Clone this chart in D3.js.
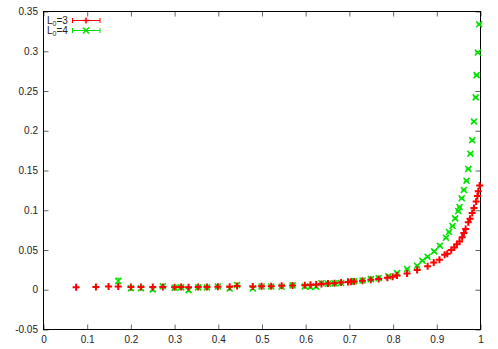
<!DOCTYPE html>
<html>
  <head>
    <script src="https://cdnjs.cloudflare.com/ajax/libs/d3/7.8.5/d3.min.js"></script>
    <style>
      body { margin: 0; background: #fff; }
      svg { font-family: "Liberation Sans", Arial, sans-serif; font-size: 10px; }
      .axis text { fill: #222; }
      .axis line { stroke: #666; }
    </style>
  </head>
  <body>
    <svg id="chart" width="498" height="349"></svg>
    <script>
      // L0=3 series (red)
      const redX = [0.0747, 0.12, 0.149, 0.171, 0.2, 0.223, 0.25, 0.273, 0.3, 0.315, 0.332, 0.354, 0.374, 0.399,
        0.426, 0.443, 0.479, 0.499, 0.521, 0.545, 0.57, 0.598, 0.611, 0.624, 0.636, 0.651, 0.666, 0.681, 0.697,
        0.704, 0.711, 0.73, 0.749, 0.767, 0.787, 0.799, 0.809, 0.832, 0.855, 0.879, 0.893, 0.906, 0.918, 0.924,
        0.933, 0.94, 0.946, 0.952, 0.958, 0.962, 0.966, 0.972, 0.976, 0.981, 0.985, 0.99, 0.993, 0.995, 0.998];
      const redY = [0.0033, 0.0035, 0.004, 0.004, 0.0035, 0.0035, 0.0035, 0.0035, 0.0033, 0.0035, 0.0033, 0.0035,
        0.0035, 0.0038, 0.0038, 0.0048, 0.0042, 0.0045, 0.0045, 0.005, 0.0054, 0.0058, 0.0063, 0.0065, 0.0072,
        0.0078, 0.0083, 0.0092, 0.0098, 0.0101, 0.0105, 0.0113, 0.0126, 0.0134, 0.0151, 0.0164, 0.018, 0.0205,
        0.0247, 0.0297, 0.0344, 0.0378, 0.0441, 0.0453, 0.0499, 0.0533, 0.0571, 0.0608, 0.0659, 0.0713, 0.0763,
        0.0848, 0.0894, 0.0965, 0.1028, 0.111, 0.118, 0.124, 0.131];

      // L0=4 series (green)
      const greenX = [0.171, 0.2, 0.223, 0.25, 0.273, 0.3, 0.315, 0.332, 0.354, 0.374, 0.399, 0.426, 0.443, 0.479,
        0.499, 0.521, 0.545, 0.57, 0.598, 0.611, 0.624, 0.636, 0.651, 0.666, 0.681, 0.702, 0.711, 0.73, 0.749,
        0.767, 0.789, 0.809, 0.832, 0.855, 0.867, 0.879, 0.894, 0.907, 0.921, 0.928, 0.936, 0.942, 0.949, 0.952,
        0.957, 0.962, 0.968, 0.972, 0.977, 0.981, 0.985, 0.989, 0.991, 0.994, 0.997];
      const greenY = [0.011, 0.0018, 0.002, 0.0005, 0.0045, 0.0025, 0.003, -0.0005, 0.003, 0.003, 0.004, 0.0015,
        0.006, 0.0016, 0.004, 0.004, 0.0037, 0.0055, 0.004, 0.0035, 0.0038, 0.0082, 0.0075, 0.008, 0.0085, 0.0105,
        0.0108, 0.0117, 0.0134, 0.0146, 0.0168, 0.0209, 0.026, 0.0302, 0.0365, 0.0416, 0.0483, 0.0554, 0.0655,
        0.0726, 0.0801, 0.0898, 0.099, 0.104, 0.115, 0.1255, 0.137, 0.152, 0.171, 0.188, 0.2116, 0.242, 0.27,
        0.2985, 0.334];
      const greenErr = [0.0035, 0.002, 0.002, 0.002, 0.0015, 0.0015, 0.0015, 0.002, 0.0015, 0.0015, 0.001, 0.0015,
        0.0015, 0.0015, 0.001, 0.001, 0.001, 0.001, 0.001, 0.0015, 0.0015, 0.001, 0.001, 0.001, 0.001, 0.001,
        0.001, 0.001, 0.001, 0.001, 0.001, 0.001, 0.001, 0.001, 0.001, 0.001, 0.001, 0.001, 0.001, 0.001, 0.001,
        0.001, 0.001, 0.001, 0.001, 0.001, 0.001, 0.001, 0.001, 0.001, 0.001, 0.001, 0.001, 0.001, 0.001];

      const xTicks = d3.range(0, 1.0001, 0.1);
      const yTicks = d3.range(-0.05, 0.3501, 0.05);
      const legendLabels = ["3", "4"];

      const svg = d3.select("#chart");
      const plotL = 43.5, plotR = 480.5, plotT = 11.5, plotB = 329.5;

      const x = d3.scaleLinear().domain([0, 1]).range([plotL, plotR]);
      const y = d3.scaleLinear().domain([-0.05, 0.35]).range([plotB, plotT]);
      const fmt = (d) => String(+d.toFixed(2));

      // axes with inward ticks, mirrored on top/right
      svg.append("g").attr("class", "axis").attr("transform", `translate(0,${plotB})`)
        .call(d3.axisBottom(x).tickValues(xTicks).tickSize(-5).tickPadding(6).tickFormat(fmt))
        .call((g) => g.select(".domain").remove());
      svg.append("g").attr("class", "axis").attr("transform", `translate(0,${plotT})`)
        .call(d3.axisTop(x).tickValues(xTicks).tickSize(-5).tickFormat(""))
        .call((g) => g.select(".domain").remove());
      svg.append("g").attr("class", "axis").attr("transform", `translate(${plotL},0)`)
        .call(d3.axisLeft(y).tickValues(yTicks).tickSize(-5).tickPadding(5.5).tickFormat(fmt))
        .call((g) => g.select(".domain").remove());
      svg.append("g").attr("class", "axis").attr("transform", `translate(${plotR},0)`)
        .call(d3.axisRight(y).tickValues(yTicks).tickSize(-5).tickFormat(""))
        .call((g) => g.select(".domain").remove());
      svg.selectAll(".axis text").attr("fill", "#222");

      svg.append("rect")
        .attr("x", plotL).attr("y", plotT)
        .attr("width", plotR - plotL).attr("height", plotB - plotT)
        .attr("fill", "none").attr("stroke", "#000").attr("stroke-width", 1);

      const plusPath = "M-3.5,0H3.5M0,-3.5V3.5";
      const crossPath = "M-3,-3L3,3M-3,3L3,-3";
      const red = "#ff0000", green = "#00e000";

      // green series: error bars + x markers
      const gData = greenX.map((d, i) => ({ x: d, y: greenY[i], e: greenErr[i] }));
      const gG = svg.append("g").attr("stroke", green).attr("fill", "none").attr("stroke-width", 1.5);
      gG.selectAll("path.err").data(gData).enter().append("path")
        .attr("class", "err")
        .attr("stroke-width", 1)
        .attr("d", (d) => {
          const cx = x(d.x), y1 = y(d.y - d.e), y2 = y(d.y + d.e);
          return `M${cx},${y1}V${y2}M${cx - 2.5},${y1}H${cx + 2.5}M${cx - 2.5},${y2}H${cx + 2.5}`;
        });
      gG.selectAll("path.pt").data(gData).enter().append("path")
        .attr("class", "pt")
        .attr("transform", (d) => `translate(${x(d.x)},${y(d.y)})`)
        .attr("d", crossPath);

      // red series
      const rData = redX.map((d, i) => ({ x: d, y: redY[i] }));
      svg.append("g").attr("stroke", red).attr("fill", "none").attr("stroke-width", 2)
        .selectAll("path").data(rData).enter().append("path")
        .attr("transform", (d) => `translate(${x(d.x)},${y(d.y)})`)
        .attr("d", plusPath);

      // legend
      const legend = svg.append("g");
      legendLabels.forEach((lab, i) => {
        const ly = 20.5 + i * 10;
        const col = i === 0 ? red : green;
        const t = legend.append("text").attr("x", 47).attr("y", ly + 3.6).attr("fill", "#222");
        t.append("tspan").text("L");
        t.append("tspan").attr("font-size", "7px").attr("dy", 2).text("0");
        t.append("tspan").attr("dy", -2).text("=" + lab);
        legend.append("path")
          .attr("stroke", col).attr("fill", "none").attr("stroke-width", 1)
          .attr("d", `M72.5,${ly}H100M72.5,${ly - 2.5}V${ly + 2.5}M100,${ly - 2.5}V${ly + 2.5}`);
        legend.append("path")
          .attr("stroke", col).attr("fill", "none").attr("stroke-width", 1.5)
          .attr("transform", `translate(86,${ly})`)
          .attr("d", i === 0 ? "M-3,0H3M0,-3V3" : crossPath);
      });
    </script>
  </body>
</html>
